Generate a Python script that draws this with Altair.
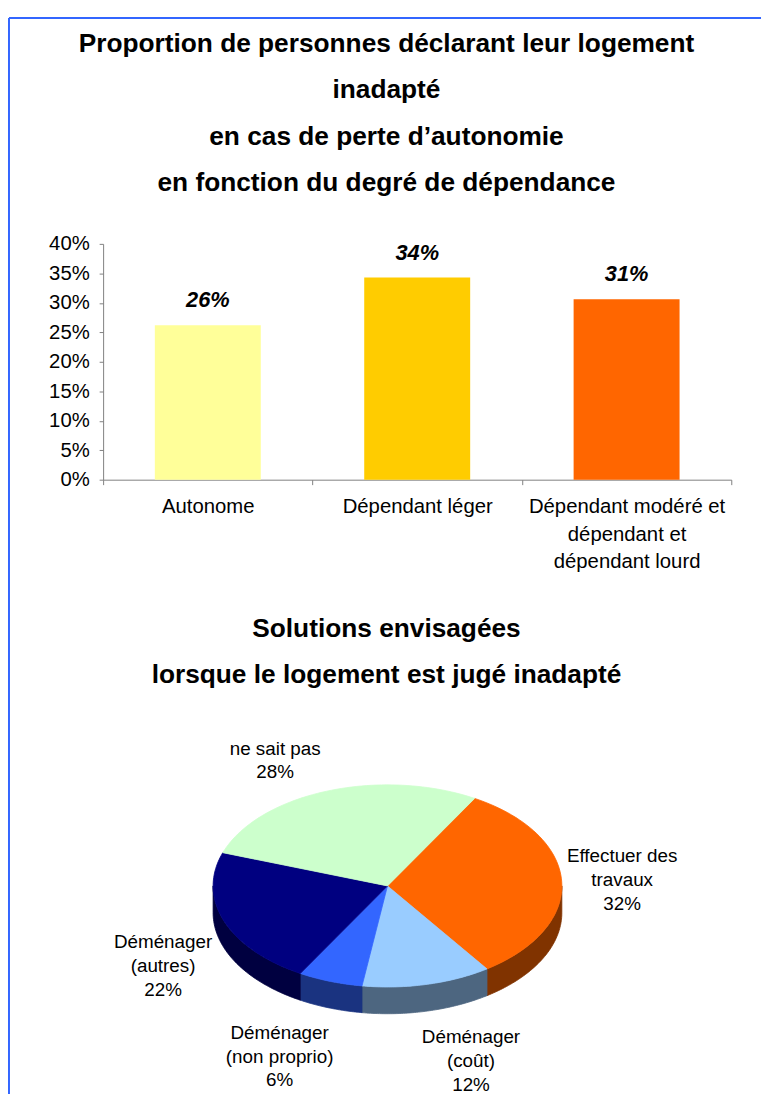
import altair as alt
import pandas as pd

# ---------------- data ----------------
categories = ["Autonome", "Dépendant léger", "Dépendant modéré et\ndépendant et\ndépendant lourd"]
shares = [0.262, 0.343, 0.306]
bar_colors = ["#FFFF99", "#FFCC00", "#FF6600"]
y_ticks = [0, 0.05, 0.10, 0.15, 0.20, 0.25, 0.30, 0.35, 0.40]

title_lines = [
    "Proportion de personnes déclarant leur logement",
    "inadapté",
    "en cas de perte d’autonomie",
    "en fonction du degré de dépendance",
]
pie_title_lines = ["Solutions envisagées", "lorsque le logement est jugé inadapté"]

pie_names = ["Effectuer des\ntravaux", "Déménager\n(coût)", "Déménager\n(non proprio)",
             "Déménager\n(autres)", "ne sait pas"]
pie_values = [32, 12, 6, 22, 28]
pie_top_colors = ["#FF6600", "#99CCFF", "#3366FF", "#000080", "#CCFFCC"]
pie_side_colors = ["#803300", "#4D6680", "#1A3380", "#000040", "#66806A"]

FONT = "Liberation Sans"
FRAME = "#3366FF"

# ---------------- bar chart ----------------
bar_df = pd.DataFrame({"cat": categories, "share": shares})

W1, H1 = 634, 238

x_axis = alt.Axis(labelAngle=0, labelFontSize=20.5, labelColor="black",
                  labelLineHeight=28, labelPadding=12, tickSize=5,
                  tickBand="extent", domainColor="#808080", tickColor="#808080",
                  labelExpr="split(datum.label, '\\n')", labelLimit=300)
y_axis = alt.Axis(values=y_ticks, format=".0%", labelFontSize=20.5, labelColor="black",
                  labelOverlap=False, tickCount=9, tickSize=4, labelPadding=10, grid=False,
                  domainColor="#808080", tickColor="#808080")

x_enc = alt.X("cat:N", sort=categories, title=None,
              scale=alt.Scale(paddingInner=0, paddingOuter=0), axis=x_axis)
y_enc = alt.Y("share:Q", title=None, scale=alt.Scale(domain=[0, 0.4], nice=False), axis=y_axis)

bars = alt.Chart(bar_df).mark_bar(width={"band": 0.506}).encode(
    x=x_enc, y=y_enc,
    color=alt.Color("cat:N", scale=alt.Scale(domain=categories, range=bar_colors), legend=None),
)
bar_labels = alt.Chart(bar_df).mark_text(
    fontSize=22, fontWeight="bold", fontStyle="italic", dy=-18, baseline="alphabetic", color="black"
).encode(x=x_enc, y=y_enc, text=alt.Text("share:Q", format=".0%"))

title1 = alt.Chart(pd.DataFrame({"t": ["\n".join(title_lines)]})).mark_text(
    fontSize=26.5, fontWeight="bold", lineBreak="\n", lineHeight=47, align="center",
    baseline="alphabetic", color="black"
).encode(text="t:N", x=alt.value(286), y=alt.value(-194))

frame_df = pd.DataFrame({"k": [0]})
frame_top = alt.Chart(frame_df).mark_rule(color=FRAME, strokeWidth=2).encode(
    x=alt.value(-95), x2=alt.value(664), y=alt.value(-228))
frame_left = alt.Chart(frame_df).mark_rule(color=FRAME, strokeWidth=2).encode(
    x=alt.value(-95), y=alt.value(-228), y2=alt.value(858))

chart1 = alt.layer(bars, bar_labels, title1, frame_top, frame_left).properties(width=W1, height=H1)

# ---------------- pie chart (tilted, 3D) ----------------
pie_df = pd.DataFrame({"name": pie_names, "value": pie_values, "idx": list(range(len(pie_names)))})

W2, H2 = 634, 376
A, B, DEPTH = 176, 102, 27
N = 60
START = "(30*PI/180)"
RX, RY_TOP, RY_BOT = 237, 135, 154
LINE_H = 24

xs = alt.Scale(domain=[-287, W2 - 287], nice=False, zero=False)
ys = alt.Scale(domain=[-169, H2 - 169], nice=False, zero=False, reverse=True)

pie_base = alt.Chart(pie_df).transform_joinaggregate(
    total="sum(value)"
).transform_window(
    cum="sum(value)", sort=[alt.SortField("idx")], frame=[None, 0]
).transform_calculate(
    a0=f"{START} + 2*PI*(datum.cum - datum.value)/datum.total",
    a1=f"{START} + 2*PI*datum.cum/datum.total",
).transform_calculate(
    mid="(datum.a0 + datum.a1)/2"
)

side = pie_base.transform_calculate(
    c0="max(datum.a0, PI/2)", c1="min(datum.a1, 3*PI/2)"
).transform_filter(
    "datum.c1 > datum.c0"
).transform_calculate(
    seq=f"sequence(0, {2 * N + 2})"
).transform_flatten(["seq"]).transform_calculate(
    ang=(f"datum.seq <= {N} ? datum.c0 + (datum.c1 - datum.c0)*datum.seq/{N}"
         f" : datum.c1 - (datum.c1 - datum.c0)*(datum.seq - {N} - 1)/{N}"),
).transform_calculate(
    px=f"{A}*sin(datum.ang)",
    py=f"-{B}*cos(datum.ang) + (datum.seq > {N} ? {DEPTH} : 0)",
).mark_line(filled=True, interpolate="linear-closed", strokeWidth=0.8).encode(
    x=alt.X("px:Q", scale=xs, axis=None),
    y=alt.Y("py:Q", scale=ys, axis=None),
    color=alt.Color("name:N", scale=alt.Scale(domain=pie_names, range=pie_side_colors), legend=None),
    stroke=alt.Stroke("name:N", scale=alt.Scale(domain=pie_names, range=pie_side_colors), legend=None),
    order=alt.Order("seq:Q"),
)

top = pie_base.transform_calculate(
    seq=f"sequence(0, {N + 2})"
).transform_flatten(["seq"]).transform_calculate(
    ang=f"datum.a0 + (datum.a1 - datum.a0)*(datum.seq - 1)/{N}"
).transform_calculate(
    px=f"datum.seq == 0 ? 0 : {A}*sin(datum.ang)",
    py=f"datum.seq == 0 ? 0 : -{B}*cos(datum.ang)",
).mark_line(filled=True, interpolate="linear-closed", strokeWidth=0.8).encode(
    x=alt.X("px:Q", scale=xs, axis=None),
    y=alt.Y("py:Q", scale=ys, axis=None),
    color=alt.Color("name:N", scale=alt.Scale(domain=pie_names, range=pie_top_colors), legend=None),
    stroke=alt.Stroke("name:N", scale=alt.Scale(domain=pie_names, range=pie_top_colors), legend=None),
    order=alt.Order("seq:Q"),
)

pie_labels = pie_base.transform_calculate(
    s="sin(datum.mid)", c="cos(datum.mid)",
    label="datum.name + '\\n' + datum.value + '%'",
).transform_calculate(
    nlines="length(split(datum.label, '\\n'))",
).transform_calculate(
    lx=f"(datum.s < 0 ? -1 : 1) * pow(abs(datum.s), 0.7) * {RX}",
    ly=(f"(datum.c > 0 ? -datum.c * {RY_TOP} : -datum.c * {RY_BOT} + {DEPTH})"
        f" - (datum.nlines - 1) * {LINE_H} / 2"),
).mark_text(
    fontSize=19, lineBreak="\n", lineHeight=LINE_H, align="center", baseline="middle", color="black"
).encode(
    x=alt.X("lx:Q", scale=xs, axis=None),
    y=alt.Y("ly:Q", scale=ys, axis=None),
    text="label:N",
)

title2 = alt.Chart(pd.DataFrame({"t": ["\n".join(pie_title_lines)]})).mark_text(
    fontSize=26.5, fontWeight="bold", lineBreak="\n", lineHeight=46, align="center",
    baseline="alphabetic", color="black"
).encode(text="t:N", x=alt.value(286), y=alt.value(-82))

chart2 = alt.layer(side, top, pie_labels, title2).resolve_scale(
    color="independent", stroke="independent"
).properties(width=W2, height=H2)

chart = alt.vconcat(chart1, chart2, spacing=241, bounds="flush").properties(
    padding={"left": 0, "top": 4, "right": 0, "bottom": 0}
).configure(font=FONT).configure_view(stroke=None)

chart.save("out.html", embed_options={"renderer": "svg", "actions": False})
